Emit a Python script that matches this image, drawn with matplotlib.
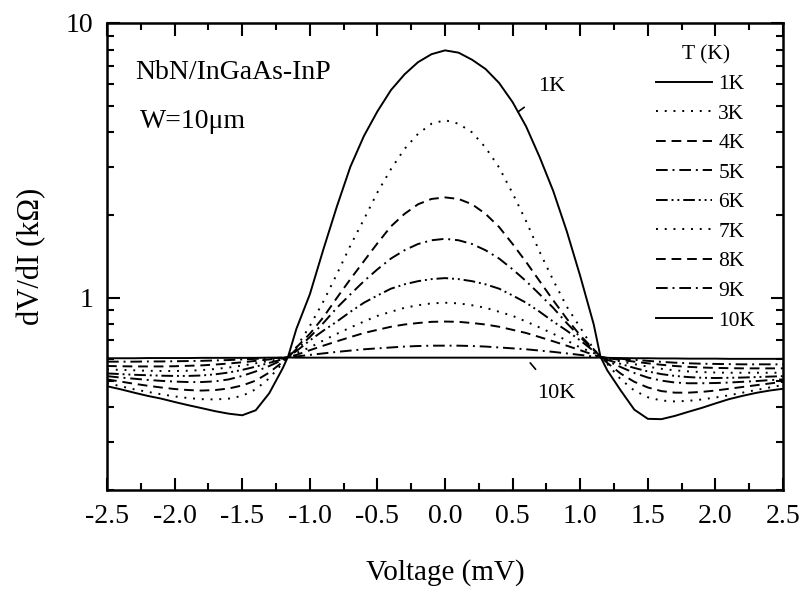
import matplotlib
matplotlib.use("Agg")
import matplotlib.pyplot as plt
from matplotlib.ticker import FixedLocator, NullFormatter, LogLocator

plt.rcParams['font.family'] = ['Liberation Serif', 'DejaVu Serif']

# tensão (mV)
voltage = [-2.5, -2.4, -2.3, -2.2, -2.1, -2.0, -1.9, -1.8, -1.7, -1.6, -1.5, -1.4, -1.3, -1.2,
           -1.16,
           -1.1, -1.0, -0.9, -0.8, -0.7, -0.6, -0.5, -0.4, -0.3, -0.2, -0.1, 0.0,
           0.1, 0.2, 0.3, 0.4, 0.5, 0.6, 0.7, 0.8, 0.9, 1.0, 1.1,
           1.15,
           1.2, 1.3, 1.4, 1.5, 1.6, 1.7, 1.8, 1.9, 2.0, 2.1, 2.2, 2.3, 2.4, 2.5]

# dV/dI (kOhm) para cada temperatura
r_1k = [0.477, 0.465, 0.452, 0.44, 0.43, 0.418, 0.407, 0.397, 0.387, 0.379, 0.374, 0.39, 0.45, 0.555,
        0.613,
        0.77, 1.03, 1.5, 2.15, 3.0, 3.88, 4.77, 5.7, 6.5, 7.2, 7.7, 7.95,
        7.8, 7.35, 6.8, 6.05, 5.15, 4.2, 3.25, 2.45, 1.75, 1.2, 0.8,
        0.61,
        0.545, 0.46, 0.392, 0.363, 0.362, 0.372, 0.385, 0.398, 0.413, 0.428, 0.44, 0.451, 0.46, 0.467]
r_3k = [0.49, 0.477, 0.465, 0.455, 0.446, 0.438, 0.432, 0.428, 0.427, 0.43, 0.44, 0.465, 0.51, 0.58,
        0.61,
        0.66, 0.79, 0.97, 1.22, 1.55, 1.93, 2.42, 2.94, 3.48, 3.95, 4.30, 4.43,
        4.30, 4.0, 3.52, 2.98, 2.40, 1.90, 1.47, 1.16, 0.93, 0.78, 0.65,
        0.61,
        0.575, 0.505, 0.46, 0.435, 0.423, 0.42, 0.422, 0.427, 0.434, 0.442, 0.452, 0.462, 0.472, 0.482]
r_4k = [0.505, 0.496, 0.487, 0.479, 0.472, 0.466, 0.462, 0.46, 0.462, 0.468, 0.48, 0.5, 0.535, 0.585,
        0.61,
        0.66, 0.74, 0.85, 1.0, 1.17, 1.36, 1.58, 1.82, 2.02, 2.19, 2.29, 2.32,
        2.29, 2.19, 2.02, 1.81, 1.57, 1.35, 1.15, 0.98, 0.84, 0.73, 0.65,
        0.61,
        0.58, 0.53, 0.495, 0.472, 0.458, 0.452, 0.452, 0.455, 0.46, 0.467, 0.474, 0.481, 0.488, 0.495]
r_5k = [0.519, 0.513, 0.508, 0.503, 0.499, 0.496, 0.494, 0.494, 0.497, 0.505, 0.52, 0.54, 0.565, 0.595,
        0.61,
        0.65, 0.72, 0.81, 0.92, 1.03, 1.15, 1.27, 1.39, 1.49, 1.57, 1.62, 1.64,
        1.62, 1.57, 1.49, 1.39, 1.27, 1.15, 1.03, 0.92, 0.81, 0.72, 0.645,
        0.61,
        0.59, 0.56, 0.533, 0.513, 0.5, 0.492, 0.489, 0.489, 0.49, 0.492, 0.495, 0.498, 0.502, 0.505]
r_6k = [0.531, 0.528, 0.525, 0.523, 0.521, 0.52, 0.52, 0.522, 0.527, 0.535, 0.547, 0.562, 0.58, 0.598,
        0.61,
        0.64, 0.70, 0.76, 0.82, 0.89, 0.96, 1.02, 1.08, 1.12, 1.15, 1.17, 1.18,
        1.17, 1.15, 1.12, 1.08, 1.02, 0.96, 0.89, 0.82, 0.76, 0.70, 0.64,
        0.61,
        0.595, 0.575, 0.556, 0.54, 0.528, 0.52, 0.515, 0.512, 0.511, 0.512, 0.513, 0.515, 0.517, 0.519]
r_7k = [0.549, 0.547, 0.545, 0.543, 0.542, 0.542, 0.543, 0.546, 0.551, 0.558, 0.567, 0.578, 0.59, 0.602,
        0.61,
        0.63, 0.66, 0.70, 0.74, 0.78, 0.82, 0.86, 0.89, 0.92, 0.94, 0.955, 0.96,
        0.955, 0.94, 0.92, 0.89, 0.86, 0.82, 0.78, 0.74, 0.70, 0.66, 0.63,
        0.61,
        0.6, 0.587, 0.574, 0.562, 0.552, 0.545, 0.54, 0.537, 0.535, 0.534, 0.534, 0.534, 0.534, 0.534]
r_8k = [0.565, 0.564, 0.563, 0.563, 0.563, 0.564, 0.566, 0.568, 0.572, 0.577, 0.583, 0.59, 0.597, 0.604,
        0.61,
        0.62, 0.645, 0.67, 0.695, 0.72, 0.745, 0.765, 0.785, 0.80, 0.81, 0.818, 0.82,
        0.818, 0.81, 0.80, 0.785, 0.765, 0.745, 0.72, 0.695, 0.67, 0.645, 0.62,
        0.61,
        0.603, 0.595, 0.586, 0.578, 0.571, 0.565, 0.561, 0.558, 0.556, 0.555, 0.554, 0.554, 0.554, 0.554]
r_9k = [0.586, 0.586, 0.586, 0.587, 0.587, 0.588, 0.589, 0.59, 0.592, 0.594, 0.597, 0.6, 0.603, 0.606,
        0.61,
        0.612, 0.62, 0.628, 0.636, 0.643, 0.65, 0.655, 0.66, 0.665, 0.668, 0.67, 0.67,
        0.67, 0.668, 0.665, 0.66, 0.655, 0.65, 0.643, 0.636, 0.628, 0.62, 0.612,
        0.61,
        0.605, 0.6, 0.595, 0.59, 0.585, 0.581, 0.578, 0.576, 0.575, 0.574, 0.573, 0.573, 0.573, 0.573]
r_10k = [0.603, 0.603, 0.603, 0.604, 0.604, 0.604, 0.604, 0.605, 0.605, 0.605, 0.605, 0.605, 0.606, 0.606,
         0.607,
         0.606, 0.606, 0.606, 0.606, 0.606, 0.606, 0.606, 0.606, 0.606, 0.606, 0.606, 0.606,
         0.606, 0.606, 0.606, 0.606, 0.606, 0.606, 0.606, 0.606, 0.606, 0.606, 0.606,
         0.606,
         0.605, 0.604, 0.603, 0.603, 0.602, 0.602, 0.601, 0.601, 0.601, 0.600, 0.600, 0.600, 0.600, 0.600]

curvas = [r_1k, r_3k, r_4k, r_5k, r_6k, r_7k, r_8k, r_9k, r_10k]
rotulos = ['1K', '3K', '4K', '5K', '6K', '7K', '8K', '9K', '10K']

pontilhado = (0, (1, 3.5))
tracejado = (0, (5, 3))
traco_ponto = (0, (6, 2.5, 1, 2.5))
traco_ponto_ponto = (0, (6, 2, 1, 2, 1, 2))
estilos = ['-', pontilhado, tracejado, traco_ponto, traco_ponto_ponto,
           pontilhado, tracejado, traco_ponto, '-']

fig = plt.figure(figsize=(8.06, 5.94), dpi=100)
ax = fig.add_axes([0.1328, 0.1751, 0.8387, 0.7862])

for r, rot, est in zip(curvas, rotulos, estilos):
    ax.plot(voltage, r, color='black', lw=1.4, linestyle=est, label=rot)

ax.set_yscale('log')
ax.set_xlim(-2.5, 2.5)
ax.set_ylim(0.2, 10)

ax.set_xticks([-2.5, -2.0, -1.5, -1.0, -0.5, 0.0, 0.5, 1.0, 1.5, 2.0, 2.5])
ax.set_xticklabels(['-2.5', '-2.0', '-1.5', '-1.0', '-0.5', '0.0', '0.5', '1.0', '1.5', '2.0', '2.5'])
ax.xaxis.set_minor_locator(FixedLocator([-2.25, -1.75, -1.25, -0.75, -0.25, 0.25, 0.75, 1.25, 1.75, 2.25]))
ax.yaxis.set_major_locator(FixedLocator([1, 10]))
ax.set_yticklabels(['1', '10'])
ax.yaxis.set_minor_locator(LogLocator(base=10, subs=[2, 3, 4, 5, 6, 7, 8, 9]))
ax.yaxis.set_minor_formatter(NullFormatter())

ax.tick_params(which='both', direction='in', top=True, right=True, width=1.5, labelsize=20)
ax.tick_params(which='major', length=9, pad=10)
ax.tick_params(which='minor', length=5)
for s in ax.spines.values():
    s.set_linewidth(1.8)

ax.set_xlabel('Voltage (mV)', fontsize=21, labelpad=22)
ax.set_ylabel('dV/dI (k\u03a9)', fontsize=22, labelpad=14)

ax.text(0.041, 0.895, 'NbN/InGaAs-InP', transform=ax.transAxes, fontsize=20, va='center', ha='left')
ax.text(0.049, 0.788, 'W=10\u03bcm', transform=ax.transAxes, fontsize=20, va='center', ha='left')

ax.annotate('1K', xy=(0.54, 4.75), xytext=(0.79, 5.85), fontsize=16, ha='center', va='center',
            arrowprops=dict(arrowstyle='-', color='black', lw=1.2, shrinkA=10, shrinkB=0))
ax.annotate('10K', xy=(0.63, 0.58), xytext=(0.82, 0.45), fontsize=16, ha='center', va='center',
            arrowprops=dict(arrowstyle='-', color='black', lw=1.2, shrinkA=11, shrinkB=0))

leg = ax.legend(loc='upper right', bbox_to_anchor=(0.975, 0.975), frameon=False, fontsize=15.5,
                title='T (K)', title_fontsize=15.5, handlelength=2.6, handletextpad=0.3,
                labelspacing=0.44, borderpad=0)

fig.savefig('out.png', dpi=100)
